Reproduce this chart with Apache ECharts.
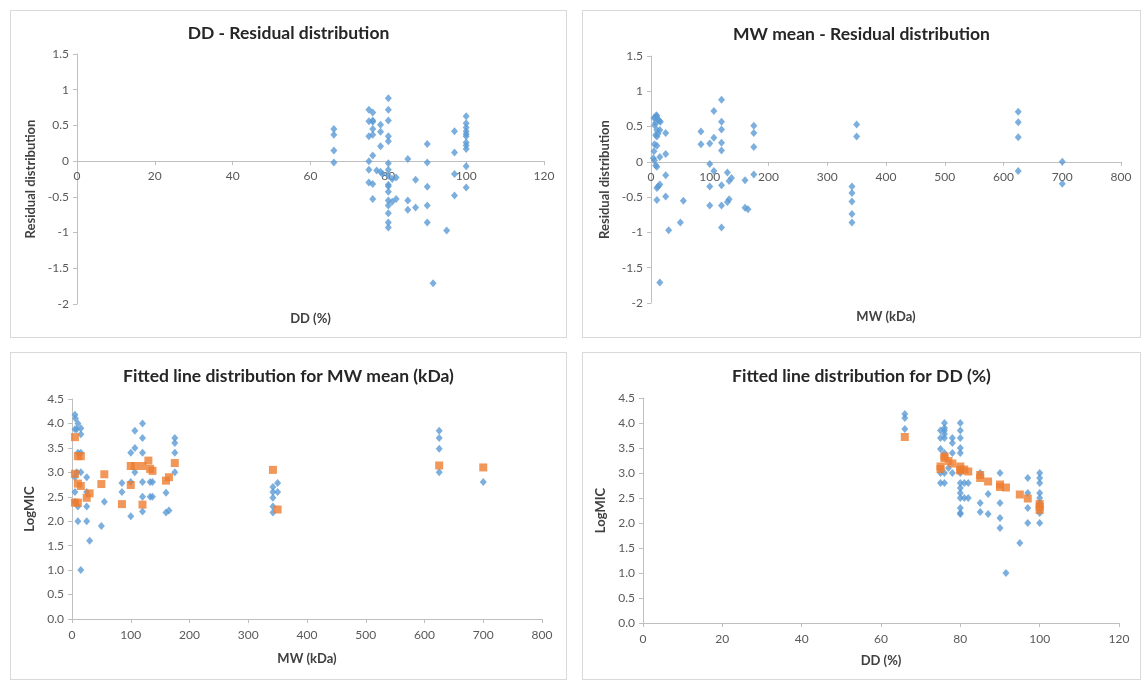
<!DOCTYPE html>
<html>
<head>
<meta charset="utf-8">
<script src="https://cdn.jsdelivr.net/npm/echarts@6/dist/echarts.min.js"></script>
<style>
    body { margin: 0; background: #fff; }
    .panel { position: absolute; border: 1px solid #d9d9d9; box-sizing: border-box; background: #fff; }
</style>
</head>
<body>
<div class="panel" id="p1" style="left:10px; top:10px; width:557px; height:328px;"></div>
<div class="panel" id="p2" style="left:582px; top:10px; width:559px; height:328px;"></div>
<div class="panel" id="p3" style="left:10px; top:352px; width:557px; height:328px;"></div>
<div class="panel" id="p4" style="left:582px; top:352px; width:559px; height:328px;"></div>
<script>
// residuals vs DD (%)
let ddResidual = [
    [66, 0.45], [66, 0.37], [66, 0.15], [66, -0.02],
    [75, 0.72], [75, 0.56], [75, 0.35], [75, 0.0], [75, -0.12], [75, -0.3],
    [76, 0.68], [76, 0.57], [76, 0.55], [76, 0.45], [76, 0.37], [76, 0.08], [76, -0.32], [76, -0.53],
    [77, -0.13],
    [78, 0.51], [78, 0.41], [78, 0.21], [78, -0.15], [78.5, -0.18],
    [80, 0.88], [80, 0.72], [80, 0.57], [80, 0.35], [80, 0.28], [80, -0.03], [80, -0.12], [80, -0.2],
    [80, -0.33], [80, -0.35], [80, -0.43], [80, -0.55], [80, -0.62], [80, -0.73], [80, -0.86], [80, -0.93],
    [81, -0.25], [81, -0.57], [82, -0.23], [82, -0.53],
    [85, 0.03], [85, -0.55], [85, -0.68],
    [87, -0.26], [87, -0.65],
    [90, 0.24], [90, -0.02], [90, -0.36], [90, -0.62], [90, -0.86],
    [91.5, -1.71], [95, -0.97],
    [97, 0.42], [97, 0.12], [97, -0.18], [97, -0.48],
    [100, 0.63], [100, 0.53], [100, 0.47], [100, 0.42], [100, 0.38], [100, 0.35], [100, 0.26],
    [100, 0.22], [100, 0.17], [100, -0.07], [100, -0.37]
];

// residuals vs MW (kDa)
let mwResidual = [
    [5, 0.62], [7, 0.63], [9, 0.66], [10, 0.65], [12, 0.6], [14, 0.58], [16, 0.57], [8, 0.55], [6, 0.52],
    [10, 0.45], [12, 0.4], [15, 0.45], [8, 0.38], [10, 0.36], [6, 0.25], [10, 0.23], [5, 0.15],
    [4, 0.05], [6, 0.02], [8, -0.05], [10, -0.07], [15, 0.07], [10, -0.37], [12, -0.35], [15, -0.32],
    [10, -0.54], [25, 0.41], [25, 0.11], [25, -0.19], [25, -0.49], [30, -0.97], [50, -0.86], [55, -0.55],
    [15, -1.71],
    [85, 0.43], [85, 0.25],
    [100, 0.26], [100, -0.03], [100, -0.35], [100, -0.62],
    [107, 0.72], [107, 0.34], [107, -0.13],
    [120, 0.88], [120, 0.57], [120, 0.46], [120, 0.27], [120, 0.16], [120, -0.33], [120, -0.62], [120, -0.93],
    [130, -0.15], [130, -0.57], [133, -0.27], [133, -0.53], [137, -0.23],
    [160, -0.26], [160, -0.65], [165, -0.67],
    [175, 0.51], [175, 0.41], [175, 0.21], [175, -0.18],
    [342, -0.35], [342, -0.44], [342, -0.56], [342, -0.74], [342, -0.86],
    [350, 0.53], [350, 0.36],
    [625, 0.71], [625, 0.56], [625, 0.35], [625, -0.13],
    [700, 0.0], [700, -0.31]
];

// LogMIC vs MW: observed and fitted
let mwObserved = [
    [5, 4.18], [6, 4.1], [10, 4.0], [5, 3.88], [8, 3.88], [15, 3.9], [15, 3.78], [10, 3.4], [15, 3.4],
    [8, 3.0], [15, 3.0], [5, 2.9], [5, 2.6], [5, 2.4], [10, 2.3], [10, 2.0], [25, 2.6], [25, 2.9],
    [25, 2.3], [25, 2.0], [30, 1.6], [15, 1.0], [50, 1.9], [55, 2.4],
    [85, 2.78], [85, 2.6],
    [100, 3.4], [100, 2.8], [100, 2.1],
    [107, 3.85], [107, 3.5], [107, 3.0],
    [120, 4.0], [120, 3.7], [120, 3.4], [120, 2.8], [120, 2.5], [120, 2.2],
    [133, 2.8], [133, 2.5], [137, 2.8], [137, 2.5],
    [160, 2.58], [160, 2.18], [165, 2.22],
    [175, 3.7], [175, 3.6], [175, 3.4], [175, 3.0],
    [342, 2.7], [342, 2.6], [342, 2.48], [342, 2.3], [342, 2.18], [350, 2.78], [350, 2.6],
    [625, 3.85], [625, 3.7], [625, 3.48], [625, 3.0],
    [700, 2.8]
];
let mwFitted = [
    [5, 3.72], [5, 2.97], [5, 2.38], [10, 3.33], [10, 2.77], [10, 2.38], [15, 3.33], [15, 2.72],
    [25, 2.48], [30, 2.57], [50, 2.76], [55, 2.96], [85, 2.35], [100, 3.13], [100, 2.74], [107, 3.13],
    [120, 3.13], [120, 2.34], [130, 3.24], [133, 3.07], [137, 3.03], [160, 2.83], [165, 2.9], [175, 3.19],
    [342, 3.05], [350, 2.24], [625, 3.14], [700, 3.1]
];

// LogMIC vs DD: observed and fitted
let ddObserved = [
    [66, 4.18], [66, 4.1], [66, 3.88],
    [75, 3.85], [75, 3.7], [75, 3.48], [75, 3.0], [75, 2.8],
    [76, 4.0], [76, 3.9], [76, 3.85], [76, 3.78], [76, 3.7], [76, 3.4], [76, 3.0], [76, 2.8],
    [77, 3.1], [78, 3.7], [78, 3.6], [78, 3.4], [78, 3.0],
    [80, 4.0], [80, 3.85], [80, 3.7], [80, 3.5], [80, 3.4], [80, 3.0], [80, 2.8], [80, 2.7],
    [80, 2.6], [80, 2.5], [80, 2.3], [80, 2.2], [80, 2.18],
    [81, 2.8], [81, 2.5], [82, 2.8], [82, 2.5],
    [85, 3.0], [85, 2.4], [85, 2.22], [87, 2.58], [87, 2.18],
    [90, 3.0], [90, 2.4], [90, 2.1], [90, 1.9], [91.5, 1.0], [95, 1.6],
    [97, 2.9], [97, 2.6], [97, 2.3], [97, 2.0],
    [100, 3.0], [100, 2.9], [100, 2.8], [100, 2.6], [100, 2.5], [100, 2.4], [100, 2.2], [100, 2.0]
];
let ddFitted = [
    [66, 3.72], [75, 3.13], [75, 3.08], [76, 3.33], [76, 3.3], [77, 3.24], [78, 3.19],
    [80, 3.13], [80, 3.07], [80, 3.05], [81, 3.07], [82, 3.03], [85, 2.96], [85, 2.9], [87, 2.83],
    [90, 2.77], [90, 2.72], [91.5, 2.71], [95, 2.57], [97, 2.49], [100, 2.38], [100, 2.32], [100, 2.26]
];

const FONT = 'Lato';
const BLUE = '#5b9bd5';
const ORANGE = '#ed7d31';
const AXIS_GREY = '#bfbfbf';

function axisBase(extra) {
    return Object.assign({
        type: 'value',
        splitLine: { show: false },
        axisLine: { show: true, lineStyle: { color: AXIS_GREY } },
        axisTick: { show: true, length: 4, lineStyle: { color: AXIS_GREY } },
        axisLabel: { color: '#595959', fontFamily: FONT, fontSize: 12 },
        nameTextStyle: { color: '#404040', fontFamily: FONT, fontSize: 13, fontWeight: 'bold' }
    }, extra);
}

function makeOption(el, cfg) {
    // residual charts: x axis sits on y = 0, moved up from the grid bottom
    let plotH = el.clientHeight - cfg.grid.top - cfg.grid.bottom;
    let zeroShift = cfg.yMin < 0 ? (0 - cfg.yMin) / (cfg.yMax - cfg.yMin) * plotH : 0;
    let series = [{
        type: 'scatter',
        symbol: 'diamond',
        symbolSize: [7, 8],
        itemStyle: { color: BLUE },
        data: cfg.blue
    }];
    if (cfg.orange) {
        series.push({
            type: 'scatter',
            symbol: 'rect',
            symbolSize: 8,
            itemStyle: { color: ORANGE },
            data: cfg.orange
        });
    }
    return {
        animation: false,
        title: {
            text: cfg.title,
            left: 'center',
            top: cfg.titleTop,
            textStyle: { fontFamily: FONT, fontSize: 17.5, fontWeight: 'bold', color: '#262626' }
        },
        grid: Object.assign({ outerBoundsMode: 'none', containLabel: false }, cfg.grid),
        xAxis: axisBase({
            min: 0, max: cfg.xMax, interval: cfg.xInterval,
            offset: -zeroShift,
            name: cfg.xName, nameLocation: 'middle', nameGap: cfg.xNameGap + zeroShift,
            axisLine: { show: true, onZero: false, lineStyle: { color: AXIS_GREY } },
            axisLabel: { color: '#595959', fontFamily: FONT, fontSize: 12, margin: cfg.xLabelMargin }
        }),
        yAxis: axisBase({
            min: cfg.yMin, max: cfg.yMax, interval: 0.5,
            name: cfg.yName, nameLocation: 'middle', nameRotate: 90, nameGap: cfg.yNameGap,
            axisLabel: {
                color: '#595959', fontFamily: FONT, fontSize: 12,
                formatter: cfg.yFixed ? (v) => v.toFixed(1) : null
            }
        }),
        series: series
    };
}

function draw(id, cfg) {
    let el = document.getElementById(id);
    let chart = echarts.init(el);
    chart.setOption(makeOption(el, cfg));
    return chart;
}

draw('p1', {
    title: 'DD - Residual distribution', titleTop: 8,
    grid: { left: 66, right: 22, top: 43, bottom: 33 },
    xMax: 120, xInterval: 20, xName: 'DD (%)', xNameGap: 8, xLabelMargin: 9,
    yMin: -2, yMax: 1.5, yName: 'Residual distribution', yNameGap: 33,
    blue: ddResidual
});

draw('p2', {
    title: 'MW mean - Residual distribution', titleTop: 9,
    grid: { left: 68, right: 19, top: 45, bottom: 34 },
    xMax: 800, xInterval: 100, xName: 'MW (kDa)', xNameGap: 7, xLabelMargin: 9,
    yMin: -2, yMax: 1.5, yName: 'Residual distribution', yNameGap: 35,
    blue: mwResidual
});

draw('p3', {
    title: 'Fitted line distribution for MW mean (kDa)', titleTop: 9,
    grid: { left: 61, right: 24, top: 46, bottom: 60 },
    xMax: 800, xInterval: 100, xName: 'MW (kDa)', xNameGap: 33, xLabelMargin: 10,
    yMin: 0, yMax: 4.5, yName: 'LogMIC', yNameGap: 34, yFixed: true,
    blue: mwObserved, orange: mwFitted
});

draw('p4', {
    title: 'Fitted line distribution for DD (%)', titleTop: 9,
    grid: { left: 60, right: 21, top: 45, bottom: 56 },
    xMax: 120, xInterval: 20, xName: 'DD (%)', xNameGap: 31, xLabelMargin: 10,
    yMin: 0, yMax: 4.5, yName: 'LogMIC', yNameGap: 31, yFixed: true,
    blue: ddObserved, orange: ddFitted
});
</script>
</body>
</html>
